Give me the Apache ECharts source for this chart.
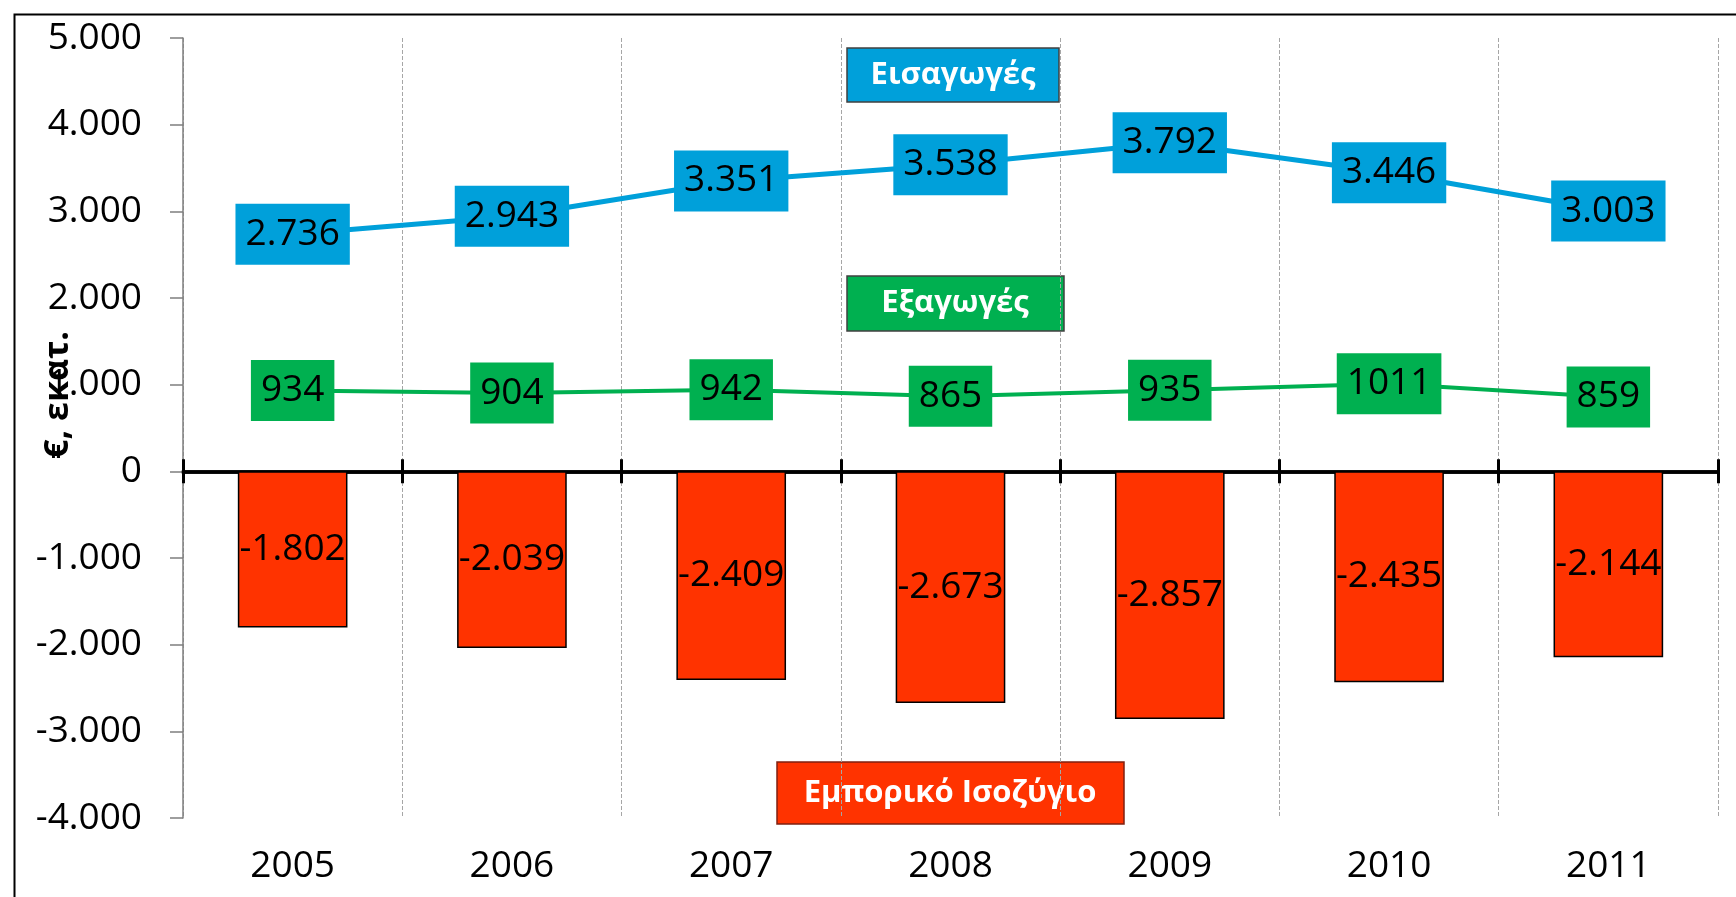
<!DOCTYPE html>
<html>
<head>
<meta charset="utf-8">
<script src="https://cdn.jsdelivr.net/npm/echarts@6/dist/echarts.min.js"></script>
<style>
  html, body { margin: 0; padding: 0; background: #fff; }
  #chart-box { width: 1736px; height: 897px; }
</style>
</head>
<body>
<div id="chart-box"></div>
<script>
// data (εκατ. €)
const years = ['2005', '2006', '2007', '2008', '2009', '2010', '2011'];
const imports = [2736, 2943, 3351, 3538, 3792, 3446, 3003];
const exportsData = [934, 904, 942, 865, 935, 1011, 859];
const balance = [-1802, -2039, -2409, -2673, -2857, -2435, -2144];
const yMin = -4000;
const yMax = 5000;
const yStep = 1000;

const FONT = 'Open Sans';

function fmt(v) {
  const s = Math.abs(v).toString().replace(/\B(?=(\d{3})+(?!\d))/g, '.');
  return (v < 0 ? '-' : '') + s;
}

let chart = echarts.init(document.getElementById('chart-box'));

const gridBox = { left: 183, right: 18, top: 38, bottom: 79, containLabel: false };

// x axis on the zero line; ticks go down on one grid and up on the twin grid
const zeroAxis = (pos, gridIndex) => ({
  type: 'category',
  gridIndex: gridIndex,
  data: years,
  position: pos,
  axisLine: { show: true, onZero: true, lineStyle: { color: '#000', width: 3.5 } },
  axisTick: { show: true, length: 12, lineStyle: { color: '#000', width: 3 } },
  axisLabel: { show: false },
  splitLine: { show: false }
});

let option = {
  animation: false,
  textStyle: { fontFamily: FONT },
  grid: [gridBox, Object.assign({}, gridBox)],
  xAxis: [
    {
      type: 'category',
      gridIndex: 0,
      data: years,
      position: 'bottom',
      axisLine: { show: false, onZero: false },
      axisTick: { show: false },
      axisLabel: { fontSize: 37, color: '#000', margin: 30, fontFamily: FONT },
      splitLine: { show: true, lineStyle: { type: 'dashed', color: '#a6a6a6', width: 1 } }
    },
    zeroAxis('bottom', 1),
    zeroAxis('top', 2)
  ],
  yAxis: [
    {
      type: 'value',
      gridIndex: 0,
      min: yMin,
      max: yMax,
      interval: yStep,
      axisLine: { show: true, lineStyle: { color: '#7f7f7f', width: 1.5 } },
      axisTick: { show: true, length: 13, lineStyle: { color: '#7f7f7f', width: 1.5 } },
      axisLabel: { fontSize: 37, color: '#000', margin: 41, fontFamily: FONT, formatter: fmt },
      splitLine: { show: false }
    },
    { type: 'value', gridIndex: 1, min: yMin, max: yMax, interval: yStep, show: false },
    { type: 'value', gridIndex: 2, min: yMin, max: yMax, interval: yStep, show: false }
  ],
  series: [
    {
      name: 'Εμπορικό Ισοζύγιο',
      type: 'bar',
      data: balance,
      barWidth: '50%',
      itemStyle: { color: '#FF3300', borderColor: '#000', borderWidth: 1.5 },
      label: {
        show: true, position: 'inside', color: '#000', fontSize: 37, fontFamily: FONT,
        formatter: p => fmt(p.value)
      }
    },
    {
      name: 'Εισαγωγές',
      type: 'line',
      data: imports,
      symbol: 'circle',
      symbolSize: 2,
      lineStyle: { color: '#00A0DA', width: 5 },
      itemStyle: { color: '#00A0DA' },
      z: 5,
      label: {
        show: true, position: 'inside', color: '#000', fontSize: 37, fontFamily: FONT,
        lineHeight: 37, backgroundColor: '#00A0DA', padding: [12, 10],
        formatter: p => fmt(p.value)
      }
    },
    {
      name: 'Εξαγωγές',
      type: 'line',
      data: exportsData,
      symbol: 'circle',
      symbolSize: 2,
      lineStyle: { color: '#00B050', width: 4 },
      itemStyle: { color: '#00B050' },
      z: 5,
      label: {
        show: true, position: 'inside', color: '#000', fontSize: 37, fontFamily: FONT,
        lineHeight: 37, backgroundColor: '#00B050', padding: [12, 10],
        formatter: p => String(p.value)
      }
    }
  ],
  graphic: [
    // outer frame (only top and left edges are visible)
    { type: 'rect', left: 12, top: 12, shape: { width: 1800, height: 1000 },
      style: { fill: 'none', stroke: '#000', lineWidth: 2 }, silent: true },
    // y axis name
    { type: 'text', x: 58, y: 395, rotation: Math.PI / 2,
      style: { text: '€, εκατ.', fontSize: 34, fontWeight: 'bold', fontFamily: FONT,
               fill: '#000', align: 'center', verticalAlign: 'middle' }, z: 10 },
    // series tags
    { type: 'group', children: [
      { type: 'rect', shape: { x: 847, y: 48, width: 212, height: 54 },
        style: { fill: '#00A0DA', stroke: '#404040', lineWidth: 1.5 } },
      { type: 'text', x: 953, y: 75,
        style: { text: 'Εισαγωγές', fontSize: 31, fontWeight: 'bold', fontFamily: FONT,
                 fill: '#fff', align: 'center', verticalAlign: 'middle' } }
    ] },
    { type: 'group', children: [
      { type: 'rect', shape: { x: 847, y: 276, width: 217, height: 55 },
        style: { fill: '#00B050', stroke: '#404040', lineWidth: 1.5 } },
      { type: 'text', x: 955, y: 303,
        style: { text: 'Εξαγωγές', fontSize: 31, fontWeight: 'bold', fontFamily: FONT,
                 fill: '#fff', align: 'center', verticalAlign: 'middle' } }
    ] },
    { type: 'group', children: [
      { type: 'rect', shape: { x: 777, y: 762, width: 347, height: 62 },
        style: { fill: '#FF3300', stroke: '#802010', lineWidth: 1.5 } },
      { type: 'text', x: 950, y: 793,
        style: { text: 'Εμπορικό Ισοζύγιο', fontSize: 31, fontWeight: 'bold', fontFamily: FONT,
                 fill: '#fff', align: 'center', verticalAlign: 'middle' } }
    ] }
  ]
};

option.grid.push(Object.assign({}, gridBox));

option && chart.setOption(option);
</script>
</body>
</html>
